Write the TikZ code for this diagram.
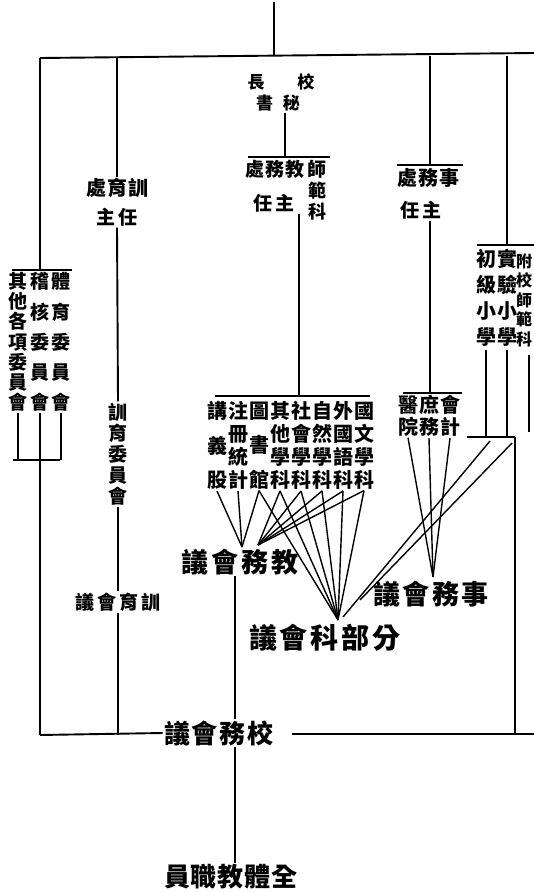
\documentclass[tikz,border=0pt]{standalone}
\usepackage{fontspec}
\newfontfamily\cjk{Noto Sans CJK TC}
\begin{document}
\begin{tikzpicture}[x=1pt,y=-1pt, line width=1.9pt,
  t/.style={inner sep=0.5pt, align=center},
  fs/.style 2 args={font={\cjk\bfseries\fontsize{#1}{#2}\selectfont}},
  fan/.style={line width=1.4pt}]
\useasboundingbox (0,0) rectangle (534,892);
\begin{scope}
\clip (0,0) rectangle (534,892);
% ---------- top ----------
\coordinate (top) at (274,2);
\coordinate (tb) at (274,55);
\coordinate (tbL) at (40,58);
\coordinate (tbR) at (534,53);
\draw (top) -- (tb);
\draw (tbL) -- (tbR);
% ---------- left committees ----------
\coordinate (Lg) at (40,270);
\coordinate (lgA) at (12,270);
\coordinate (lgB) at (72,270);
\draw (tbL) -- (Lg);
\draw (lgA) -- (lgB);
\node[t,fs={19}{20.2}] (wy1) at (18,342) {其\\他\\各\\項\\委\\員\\會};
\node[t,fs={19}{30.2}] (wy2) at (40,342) {稽\\核\\委\\員\\會};
\node[t,fs={19}{30.2}] (wy3) at (61,342) {體\\育\\委\\員\\會};
\coordinate (lb1) at (13,460);
\coordinate (lb2) at (60,460);
\coordinate (lbm) at (40,460);
\draw (wy1.south) -- (wy1.south |- lb1);
\draw (wy2.south) -- (wy2.south |- lb1);
\draw (wy3.south) -- (wy3.south |- lb1);
\draw (lb1) -- (lb2);
\coordinate (Lbot) at (40,735);
\draw (lbm) -- (Lbot);
% ---------- discipline ----------
\coordinate (X0) at (117,57);
\node[t,fs={20}{22}] (xy) at (117,188) {處\hspace{1pt}育\hspace{1pt}訓};
\node[t,fs={19}{22}] (xyz) at (117,217) {主\hspace{3pt}任};
\draw (X0) -- (xy.north);
\node[t,fs={19}{21}] (xywh) at (118,454) {訓\\育\\委\\員\\會};
\draw (xyz.south) -- (xywh.north);
\node[t,fs={19}{22}] (xyhy) at (118,602) {議\hspace{3pt}會\hspace{3pt}育\hspace{3pt}訓};
\draw (xywh.south) -- (xyhy.north);
\draw (xyhy.south) -- (xyhy.south |- Lbot);
% ---------- principal ----------
\node[t,fs={17}{20}] (xz) at (281,82) {長\hspace{33pt}校};
\node[t,fs={17}{20}] (ms) at (278,103) {書\hspace{10pt}秘};
\coordinate (jbm) at (285,157);
\coordinate (jb1) at (248,157);
\coordinate (jb2) at (330,157);
\draw (jbm |- ms.south) -- (jbm);
\draw (jb1) -- (jb2);
\node[t,fs={19}{22}] (jwc1) at (286,169) {處\hspace{1pt}務\hspace{1pt}教\hspace{3pt}師};
\node[t,fs={19}{22}] (jwc2) at (274,203) {任\hspace{3pt}主};
\node[t,fs={18}{21}] (jwc3) at (317,201) {範\\科};
\coordinate (jv) at (299,396);
\draw (jv |- jwc2.south) -- (jv);
\coordinate (cb1) at (215,396);
\coordinate (cb2) at (370,396);
\draw (cb1) -- (cb2);
\node[t,fs={20}{34.5}] (c1) at (217,445.5) {講\\義\\股};
\node[t,fs={20}{23}] (c2) at (238,445.5) {注\\冊\\統\\計};
\node[t,fs={20}{34.5}] (c3) at (259,445.5) {圖\\書\\館};
\node[t,fs={20}{23}] (c4) at (280,445.5) {其\\他\\學\\科};
\node[t,fs={20}{23}] (c5) at (301,445.5) {社\\會\\學\\科};
\node[t,fs={20}{23}] (c6) at (322,445.5) {自\\然\\學\\科};
\node[t,fs={20}{23}] (c7) at (343,445.5) {外\\國\\語\\科};
\node[t,fs={20}{23}] (c8) at (364,445.5) {國\\文\\學\\科};
\coordinate (A1) at (242,547);
\coordinate (A2) at (258,545);
\coordinate (K) at (338,620);
\foreach \c in {c1,c2,c3} \draw[fan] (\c.south) -- (A1);
\foreach \c in {c4,c5,c6,c7,c8} \draw[fan] (\c.south) -- (A2);
\foreach \c in {c3,c4,c5,c6,c7,c8} \draw[fan] (\c.south) -- (K);
\node[t,fs={27}{30}] (jwhy) at (240,562) {議\hspace{3pt}會\hspace{3pt}務\hspace{3pt}教};
\node[t,fs={28}{30}] (bfhy) at (325,638) {議\hspace{3pt}會\hspace{3pt}科\hspace{3pt}部\hspace{3pt}分};
% ---------- general affairs ----------
\coordinate (S0) at (430,56);
\coordinate (sb) at (430,165);
\coordinate (sb1) at (397,165);
\coordinate (sb2) at (463,165);
\draw (S0) -- (sb);
\draw (sb1) -- (sb2);
\node[t,fs={20}{22}] (sw1) at (428,178) {處\hspace{1pt}務\hspace{1pt}事};
\node[t,fs={19}{22}] (sw2) at (421,210) {任\hspace{3pt}主};
\coordinate (sv) at (430,393);
\draw (sv |- sw2.south) -- (sv);
\coordinate (db1) at (403,393);
\coordinate (db2) at (462,393);
\draw (db1) -- (db2);
\node[t,fs={20}{22}] (d1) at (408,416) {醫\\院};
\node[t,fs={20}{22}] (d2) at (429,416) {庶\\務};
\node[t,fs={20}{22}] (d3) at (450,416) {會\\計};
\coordinate (S) at (433,577);
\foreach \c in {d1,d2,d3} \draw[fan] (\c.south) -- (S);
\node[t,fs={27}{30}] (swhy) at (431,594) {議\hspace{2.5pt}會\hspace{2.5pt}務\hspace{2.5pt}事};
% ---------- schools ----------
\coordinate (R0) at (507,56);
\coordinate (rb) at (507,245);
\coordinate (rb1) at (477,245);
\coordinate (rb2) at (534,245);
\draw (R0) -- (rb);
\draw (rb1) -- (rb2);
\node[t,fs={20}{26}] (e1) at (486,298) {初\\級\\小\\學};
\node[t,fs={20}{26}] (e2) at (507,298) {實\\驗\\小\\學};
\node[t,fs={16}{19.5}] (e3) at (524,300) {附\\校\\師\\範\\科};
\coordinate (eb1) at (467,437);
\coordinate (eb2) at (515,437);
\draw (e1.south |- 0,350) -- (e1.south |- eb1);
\draw (e2.south |- 0,350) -- (e2.south |- eb1);
\draw (529,355) -- (529,432);
\draw (eb1) -- (eb2);
\coordinate (Rbot) at (515,734);
\draw (eb2) -- (Rbot);
\coordinate (K2) at (343,617);
\coordinate (K3) at (360,600);
\draw[fan] (490,441) -- (K2);
\draw[fan] (512,443) -- (K3);
% ---------- school council ----------
\node[t,fs={26}{28}] (xw) at (219,733) {議\hspace{2pt}會\hspace{2pt}務\hspace{2pt}校};
\coordinate (bR0) at (292,734);
\coordinate (bR1) at (534,734);
\draw (Lbot) -- (xw.west);
\draw (bR0) -- (bR1);
\coordinate (jl) at (235,0);
\draw (jwhy.south -| jl) -- (xw.north -| jl);
\node[t,fs={26}{28}] (qt) at (231,877) {員\hspace{1pt}職\hspace{1pt}教\hspace{1pt}體\hspace{1pt}全};
\draw (xw.south -| jl) -- (qt.north -| jl);
\end{scope}
\end{tikzpicture}
\end{document}
